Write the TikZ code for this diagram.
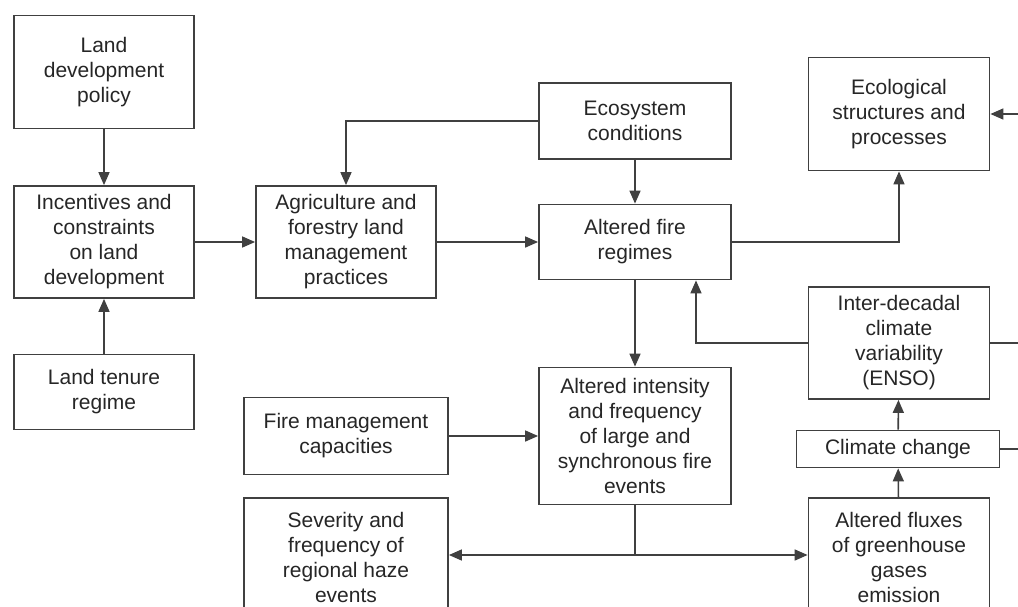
\documentclass[tikz,border=0pt]{standalone}
\usepackage{fontspec}
\setmainfont{Liberation Sans}
\usetikzlibrary{arrows.meta}
\definecolor{linegray}{HTML}{404040}
\definecolor{textgray}{HTML}{262626}

\begin{document}
\begin{tikzpicture}[x=1pt,y=-1pt]
\tikzstyle{every node}=[font=\fontsize{21}{25}\selectfont, text=textgray]
\tikzstyle{box}=[draw=linegray, line width=1.8pt, align=center, inner sep=0pt, fill=white]
\tikzstyle{arr}=[draw=linegray, line width=1.6pt, -{Triangle[length=13pt,width=11pt]}]
\tikzstyle{link}=[draw=linegray, line width=1.6pt]

\useasboundingbox (0,0) rectangle (1018,606);
\clip (0,0) rectangle (1018,606);
\fill[white] (0,0) rectangle (1018,606);

% left column
\node[box, minimum width=180pt, minimum height=113pt] (policy) at (104,72) {Land\\development\\policy};
\node[box, minimum width=180pt, minimum height=112pt] (incent) at (104,242) {Incentives and\\constraints\\on land\\development};
\node[box, minimum width=180pt, minimum height=75pt] (tenure) at (104,392) {Land tenure\\regime};

% second column
\node[box, minimum width=180pt, minimum height=112pt] (agri) at (346,242) {Agriculture and\\forestry land\\management\\practices};
\node[box, minimum width=204pt, minimum height=77pt] (firemgmt) at (346,436) {Fire management\\capacities};
\node[box, minimum width=204pt, minimum height=118pt] (haze) at (346,557) {Severity and\\frequency of\\regional haze\\events};

% middle column
\node[box, minimum width=192pt, minimum height=76pt] (ecosys) at (635,121) {Ecosystem\\conditions};
\node[box, minimum width=192pt, minimum height=75pt] (fire) at (635,242) {Altered fire\\regimes};
\node[box, minimum width=192pt, minimum height=137pt] (intens) at (635,436) {Altered intensity\\and frequency\\of large and\\synchronous fire\\events};

% right column
\node[box, minimum width=181pt, minimum height=113pt] (ecol) at (899,114) {Ecological\\structures and\\processes};
\node[box, minimum width=181pt, minimum height=112pt] (enso) at (899,343) {Inter-decadal\\climate\\variability\\(ENSO)};
\node[box, minimum width=203pt, minimum height=37pt] (climate) at (898,449) {Climate change};
\node[box, minimum width=181pt, minimum height=118pt] (ghg) at (899,557) {Altered fluxes\\of greenhouse\\gases\\emission};

\draw[arr] (policy) -- (incent);
\draw[arr] (tenure) -- (incent);
\draw[arr] (incent) -- (agri);
\draw[arr] (ecosys.west) -| (agri.north);
\draw[arr] (ecosys) -- (fire);
\draw[arr] (agri) -- (fire);
\draw[arr] (fire.east) -| (ecol.south);
\draw[arr] (fire) -- (intens);
\draw[arr] (enso.west) -| ([xshift=61pt]fire.south); % ENSO
\draw[arr] (firemgmt) -- (intens);

\coordinate (split) at (635,555);
\draw[link] (intens.south) -- (split);
\draw[arr] (split) -- (haze.east |- split);
\draw[arr] (split) -- (ghg.west |- split);

\draw[arr] (climate) -- (enso);
\draw[arr] (ghg) -- (climate);

% feedback along the right edge
\draw[arr] (enso.east) -- ++(40,0) |- (ecol.east);
\draw[link] (climate.east) -- ++(40,0);

\end{tikzpicture}
\end{document}
